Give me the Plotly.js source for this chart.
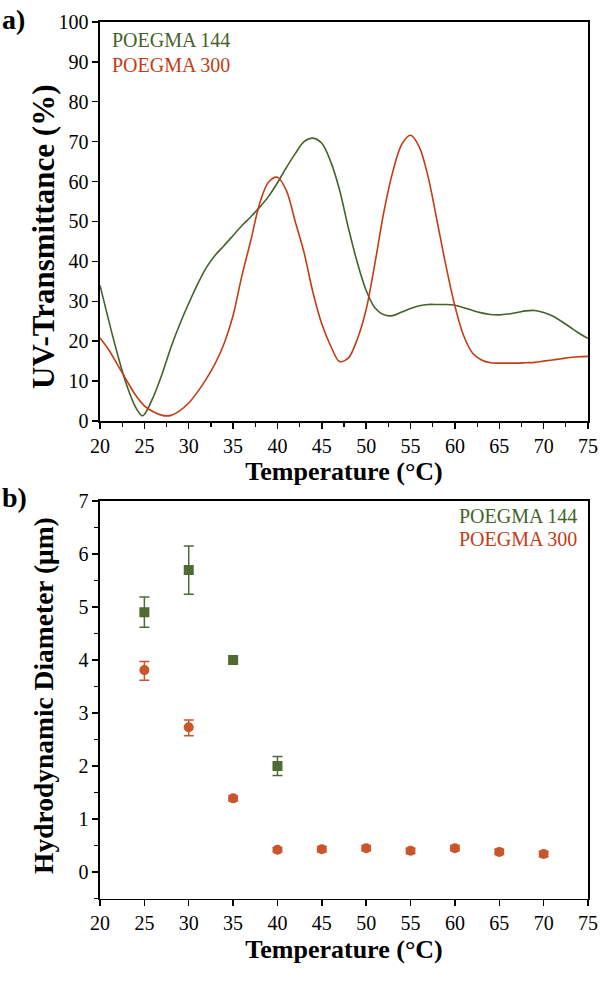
<!DOCTYPE html>
<html>
<head>
<meta charset="utf-8">
<script src="https://cdn.plot.ly/plotly-3.0.1.min.js"></script>
<style>html,body{margin:0;padding:0;background:#fff;}#chart{width:600px;height:982px;}</style>
</head>
<body>
<div id="chart"></div>
<script>
// Panel a: UV transmittance curves
const tempA144 = [20, 21, 22, 23, 24, 24.8, 26, 27, 28, 29, 30, 31, 32, 33, 34, 35, 36, 37, 38, 39, 40, 41, 42, 43, 44, 45, 46, 47, 48, 49, 50, 51, 52, 53, 54, 55, 56, 57, 58, 59, 60, 61, 62, 63, 64, 65, 66, 67, 68, 69, 70, 71, 72, 73, 74, 75];
const trans144 = [34, 25, 16.5, 9, 3.5, 1.3, 6, 11.8, 18.5, 24.3, 29.5, 34.3, 38.5, 41.6, 44, 46.5, 49, 51.2, 53.6, 56.3, 59.7, 63.5, 67, 70, 70.9, 69.6, 65, 57.9, 48.3, 39.7, 32.7, 28.3, 26.6, 26.4, 27.3, 28.2, 28.9, 29.2, 29.2, 29.2, 29, 28.4, 27.7, 27.1, 26.7, 26.6, 26.8, 27.2, 27.6, 27.7, 27.2, 26.3, 25, 23.5, 22, 20.7];
const tempA300 = [20, 21, 22, 23, 24, 25, 26, 27, 28, 29, 30, 31, 32, 33, 34, 35, 36, 37, 38, 39, 40, 41, 42, 43, 44, 45, 46, 47, 48, 49, 50, 51, 52, 53, 54, 55, 56, 57, 58, 59, 60, 61, 62, 63, 64, 65, 66, 67, 68, 69, 70, 71, 72, 73, 74, 75];
const trans300 = [20.8, 17.8, 14, 10.2, 6.5, 3.8, 2.3, 1.4, 1.4, 2.6, 4.5, 7.3, 10.6, 14.5, 19.5, 26.5, 36.5, 45.3, 54.6, 59.9, 61.1, 57.8, 50, 42.2, 32.2, 24.3, 18.8, 14.9, 15.8, 20.5, 28, 39.7, 52.5, 62.5, 69.3, 71.6, 68.6, 61, 50, 38.8, 28.8, 21.3, 17, 15.3, 14.6, 14.5, 14.5, 14.5, 14.6, 14.7, 15, 15.3, 15.6, 15.9, 16.1, 16.2];

// Panel b: hydrodynamic diameter
const tempB144 = [25, 30, 35, 40];
const diam144 = [4.9, 5.7, 4.0, 2.0];
const err144Plus = [0.29, 0.45, 0.04, 0.18];
const err144Minus = [0.28, 0.46, 0.04, 0.18];
const tempB300 = [25, 30, 35, 40, 45, 50, 55, 60, 65, 70];
const diam300 = [3.81, 2.73, 1.39, 0.42, 0.43, 0.45, 0.40, 0.45, 0.38, 0.34];
const err300Plus = [0.16, 0.14, 0.05, 0.04, 0.05, 0.05, 0.05, 0.05, 0.05, 0.05];
const err300Minus = [0.19, 0.16, 0.05, 0.04, 0.05, 0.05, 0.05, 0.05, 0.05, 0.05];

const labels = ['POEGMA 144', 'POEGMA 300'];
const yTitles = ['UV-Transmittance (%)', 'Hydrodynamic Diameter (μm)'];
const xTitle = 'Temperature (°C)';
const green = '#45622a';
const red = '#c23d14';
const greenM = '#4d6b33';
const redM = '#c9562a';
const serif = "'Liberation Serif', 'Times New Roman', Times, serif";

const traces = [
  {x: tempA144, y: trans144, type: 'scatter', mode: 'lines', name: labels[0],
   line: {color: green, width: 1.6, shape: 'spline', smoothing: 0.9}, xaxis: 'x', yaxis: 'y'},
  {x: tempA300, y: trans300, type: 'scatter', mode: 'lines', name: labels[1],
   line: {color: red, width: 1.6, shape: 'spline', smoothing: 0.9}, xaxis: 'x', yaxis: 'y'},
  {x: tempB300, y: diam300, type: 'scatter', mode: 'markers', name: labels[1],
   marker: {symbol: 'circle', size: 10, color: redM},
   error_y: {type: 'data', symmetric: false, array: err300Plus, arrayminus: err300Minus, color: redM, thickness: 1.5, width: 5},
   xaxis: 'x2', yaxis: 'y2'},
  {x: tempB144, y: diam144, type: 'scatter', mode: 'markers', name: labels[0],
   marker: {symbol: 'square', size: 10, color: greenM},
   error_y: {type: 'data', symmetric: false, array: err144Plus, arrayminus: err144Minus, color: greenM, thickness: 1.5, width: 5},
   xaxis: 'x2', yaxis: 'y2'}
];

const axisCommon = {
  showgrid: false, zeroline: false, showline: true, linecolor: '#000', linewidth: 1.6,
  mirror: true, ticks: 'outside', ticklen: 6, tickwidth: 1.4, tickcolor: '#000',
  tickfont: {family: serif, size: 20, color: '#000'}, automargin: false
};
const titleFont = {family: serif, size: 26, color: '#000', weight: 'bold'};

const layout = {
  width: 600, height: 982,
  margin: {l: 0, r: 0, t: 0, b: 0},
  paper_bgcolor: '#fff', plot_bgcolor: '#fff',
  showlegend: false,
  xaxis: Object.assign({}, axisCommon, {
    domain: [0.1667, 0.98], range: [20, 75], dtick: 5, tick0: 20, anchor: 'y',
    minor: {dtick: 2.5, ticks: 'outside', ticklen: 4, tickwidth: 1.2, tickcolor: '#000'},
    title: {text: xTitle, font: titleFont, standoff: 6}
  }),
  yaxis: Object.assign({}, axisCommon, {
    domain: [0.5713, 0.9776], range: [0, 100], dtick: 10, anchor: 'x'
  }),
  xaxis2: Object.assign({}, axisCommon, {
    domain: [0.1667, 0.98], range: [20, 75], dtick: 5, tick0: 20, anchor: 'y2',
    title: {text: xTitle, font: titleFont, standoff: 6}
  }),
  yaxis2: Object.assign({}, axisCommon, {
    domain: [0.085, 0.4898], range: [-0.5, 7], dtick: 1, tick0: 0, anchor: 'x2',
    minor: {dtick: 0.5, ticks: 'outside', ticklen: 4, tickwidth: 1.2, tickcolor: '#000'}
  }),
  annotations: [
    {text: yTitles[0], xref: 'paper', yref: 'paper', x: 43/600, y: 1 - 237/982, xanchor: 'center', yanchor: 'middle',
     textangle: -90, showarrow: false, font: Object.assign({}, titleFont, {size: 31})},
    {text: yTitles[1], xref: 'paper', yref: 'paper', x: 43/600, y: 1 - 696/982, xanchor: 'center', yanchor: 'middle',
     textangle: -90, showarrow: false, font: Object.assign({}, titleFont, {size: 27.5})},
    {text: 'a)', xref: 'paper', yref: 'paper', x: 0.0, y: 1 - 19/982, xanchor: 'left', yanchor: 'middle',
     showarrow: false, font: {family: serif, size: 28, color: '#000', weight: 'bold'}},
    {text: 'b)', xref: 'paper', yref: 'paper', x: 0.0, y: 1 - 497/982, xanchor: 'left', yanchor: 'middle',
     showarrow: false, font: {family: serif, size: 28, color: '#000', weight: 'bold'}},
    {text: labels[0], xref: 'paper', yref: 'paper', x: 110/600, y: 1 - 40/982, xanchor: 'left', yanchor: 'middle',
     showarrow: false, font: {family: serif, size: 20, color: green}},
    {text: labels[1], xref: 'paper', yref: 'paper', x: 110/600, y: 1 - 65/982, xanchor: 'left', yanchor: 'middle',
     showarrow: false, font: {family: serif, size: 20, color: red}},
    {text: labels[0], xref: 'paper', yref: 'paper', x: 579/600, y: 1 - 516/982, xanchor: 'right', yanchor: 'middle',
     showarrow: false, font: {family: serif, size: 20, color: green}},
    {text: labels[1], xref: 'paper', yref: 'paper', x: 579/600, y: 1 - 539/982, xanchor: 'right', yanchor: 'middle',
     showarrow: false, font: {family: serif, size: 20, color: red}}
  ]
};

Plotly.newPlot('chart', traces, layout, {staticPlot: true, displayModeBar: false});
</script>
</body>
</html>
